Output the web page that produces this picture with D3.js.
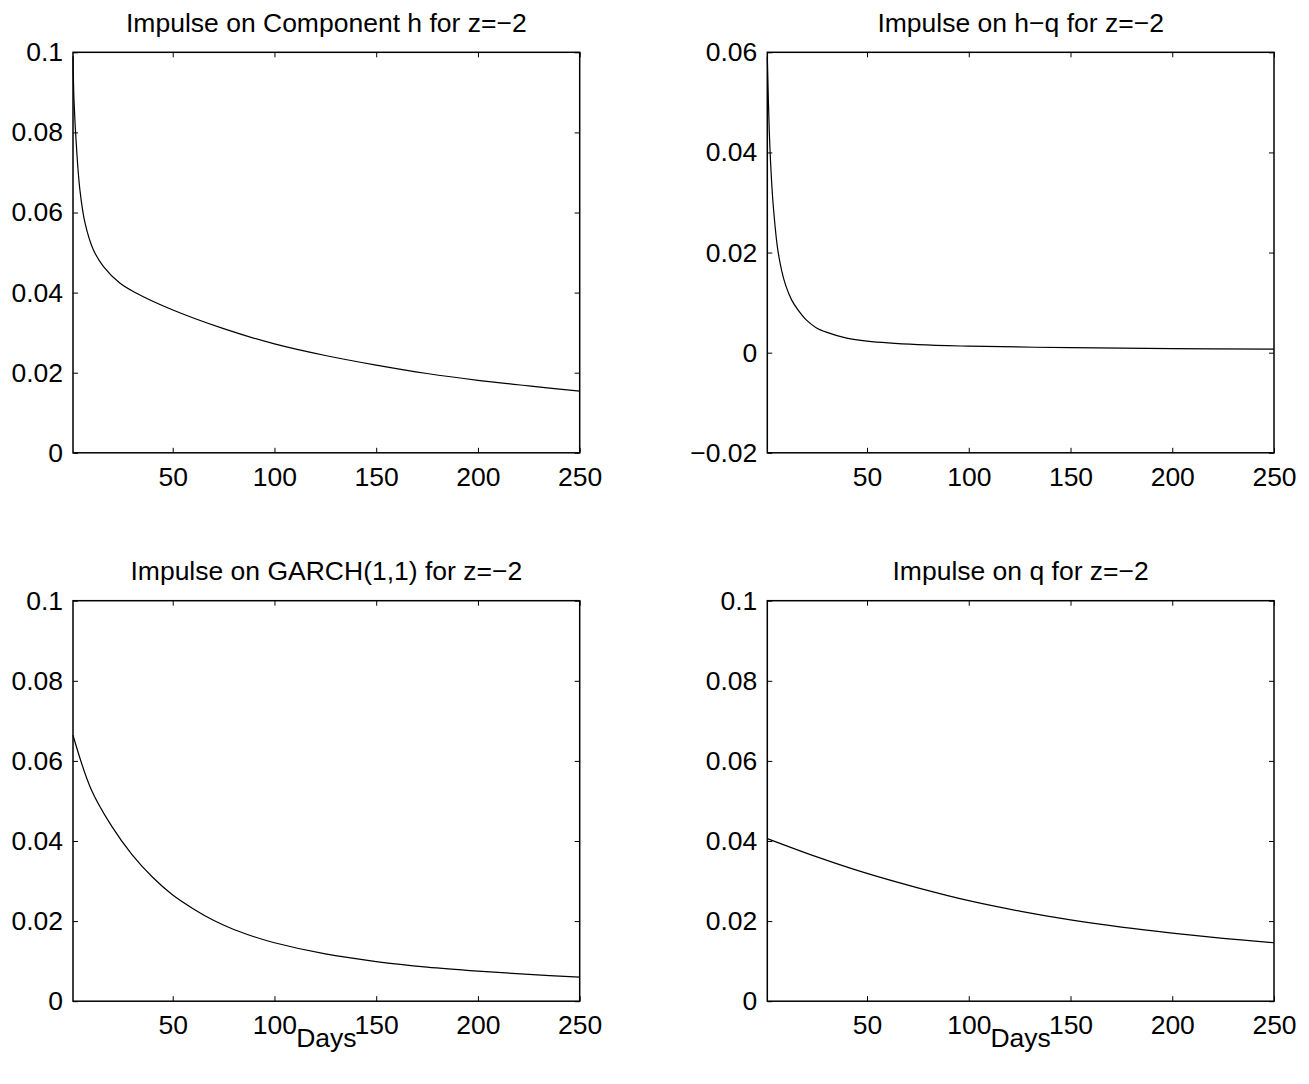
<!DOCTYPE html>
<html><head><meta charset="utf-8">
<script src="https://cdn.jsdelivr.net/npm/d3@7"></script>
<style>
body{margin:0;background:#fff;}
text{font-family:"Liberation Sans",Arial,sans-serif;fill:#000;}
</style></head><body>
<script>
// ---- data ----
const titles = ["Impulse on Component h for z=\u22122","Impulse on h\u2212q for z=\u22122","Impulse on GARCH(1,1) for z=\u22122","Impulse on q for z=\u22122"];
const xTicks = [50,100,150,200,250];
const yTicksA = [0,0.02,0.04,0.06,0.08,0.1];
const yTicksB = [-0.02,0,0.02,0.04,0.06];
const yTickLabelsA = ["0","0.02","0.04","0.06","0.08","0.1"];
const yTickLabelsB = ["\u22120.02","0","0.02","0.04","0.06"];

const daysH = [1,1.5,2.8,4.4,6.9,11,16,24,32,48,75,100,125,150,175,200,225,250];
const valsH = [0.099,0.088,0.0756,0.0656,0.0574,0.0507,0.0465,0.0424,0.0399,0.0361,0.0310,0.0272,0.0243,0.0219,0.0198,0.0181,0.0167,0.0154];

const daysHQ = [1,2,3,4,6,8,10,13,16,20,25,30,40,50,75,100,150,200,250];
const valsHQ = [0.059,0.044,0.035,0.029,0.021,0.0165,0.0135,0.0105,0.0086,0.0066,0.005,0.0041,0.0029,0.0023,0.0016,0.0013,0.001,0.0008,0.0007];

const daysG = [1,10,20,30,40,50,60,70,80,90,100,125,150,175,200,225,250];
const valsG = [0.0664,0.0528,0.0437,0.0366,0.031,0.0265,0.0231,0.0202,0.0179,0.0161,0.0146,0.0118,0.0099,0.0085,0.0075,0.0067,0.006];

const daysQ = [1,25,50,75,100,125,150,175,200,225,250];
const valsQ = [0.0406,0.0361,0.0319,0.0283,0.0251,0.0225,0.0203,0.0185,0.0170,0.0157,0.0146];

const panels = [
  {title:titles[0], days:daysH, vals:valsH, yDom:[0,0.1], yt:yTicksA, ytl:yTickLabelsA, x0:73, y0:52.3, daysLabel:false},
  {title:titles[1], days:daysHQ, vals:valsHQ, yDom:[-0.02,0.06], yt:yTicksB, ytl:yTickLabelsB, x0:767.3, y0:52.3, daysLabel:false},
  {title:titles[2], days:daysG, vals:valsG, yDom:[0,0.1], yt:yTicksA, ytl:yTickLabelsA, x0:73, y0:600.7, daysLabel:true},
  {title:titles[3], days:daysQ, vals:valsQ, yDom:[0,0.1], yt:yTicksA, ytl:yTickLabelsA, x0:767.3, y0:600.7, daysLabel:true}
];

const W = 1309, H = 1084, pw = 506.7, ph = 400.5, fs = 26.5;
const svg = d3.select("body").append("svg").attr("width",W).attr("height",H);

panels.forEach(p=>{
  const g = svg.append("g").attr("transform",`translate(${p.x0},${p.y0})`);
  const x = d3.scaleLinear().domain([1,250]).range([0,pw]);
  const y = d3.scaleLinear().domain(p.yDom).range([ph,0]);
  const fmtY = d => p.ytl[p.yt.findIndex(v=>Math.abs(v-d)<1e-9)];

  const bottom = g.append("g").attr("transform",`translate(0,${ph})`)
    .call(d3.axisBottom(x).tickValues(xTicks).tickSizeInner(-5).tickSizeOuter(0).tickPadding(14));
  const top = g.append("g")
    .call(d3.axisTop(x).tickValues(xTicks).tickSizeInner(-5).tickSizeOuter(0).tickFormat(""));
  const left = g.append("g")
    .call(d3.axisLeft(y).tickValues(p.yt).tickSizeInner(-5).tickSizeOuter(0).tickPadding(10).tickFormat(fmtY));
  const right = g.append("g").attr("transform",`translate(${pw},0)`)
    .call(d3.axisRight(y).tickValues(p.yt).tickSizeInner(-5).tickSizeOuter(0).tickFormat(""));
  [bottom,top,left,right].forEach(a=>{
    a.select(".domain").remove();
    a.selectAll("line").attr("stroke","#000").attr("stroke-width",1);
    a.selectAll("text").attr("font-size",fs).attr("font-family","Liberation Sans, Arial, sans-serif").attr("fill","#000");
  });
  g.append("rect").attr("x",0).attr("y",0).attr("width",pw).attr("height",ph)
    .attr("fill","none").attr("stroke","#000").attr("stroke-width",1.5);

  const line = d3.line().x((d,i)=>x(p.days[i])).y(d=>y(d)).curve(d3.curveCatmullRom.alpha(0.5));
  g.append("path").datum(p.vals).attr("d",line).attr("fill","none").attr("stroke","#000").attr("stroke-width",1.2);

  g.append("text").attr("x",pw/2).attr("y",-20.5).attr("text-anchor","middle").attr("font-size",fs).text(p.title);
  if(p.daysLabel){
    g.append("text").attr("x",pw/2).attr("y",ph+46).attr("text-anchor","middle").attr("font-size",fs).text("Days");
  }
});
</script>
</body></html>
